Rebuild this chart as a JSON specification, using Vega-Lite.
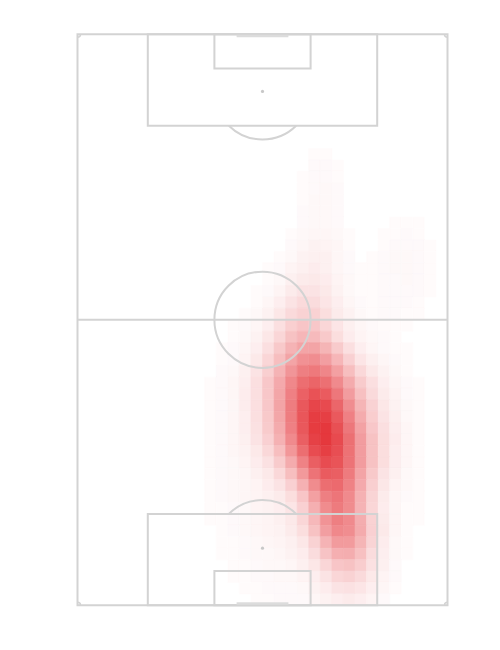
{
  "$schema": "https://vega.github.io/schema/vega-lite/v6.json",
  "width": 370,
  "height": 571,
  "autosize": "none",
  "padding": {"left": 77.5, "top": 34.3, "right": 52.5, "bottom": 44.7},
  "background": "white",
  "config": {"view": {"stroke": null}},
  "datasets": {
    "heat": [
      {"r":10,"c":20,"v":0.02},{"r":10,"c":21,"v":0.02},
      {"r":11,"c":20,"v":0.03},{"r":11,"c":21,"v":0.03},{"r":11,"c":22,"v":0.02},
      {"r":12,"c":19,"v":0.02},{"r":12,"c":20,"v":0.03},{"r":12,"c":21,"v":0.03},{"r":12,"c":22,"v":0.02},
      {"r":13,"c":19,"v":0.02},{"r":13,"c":20,"v":0.03},{"r":13,"c":21,"v":0.04},{"r":13,"c":22,"v":0.03},
      {"r":14,"c":19,"v":0.02},{"r":14,"c":20,"v":0.04},{"r":14,"c":21,"v":0.04},{"r":14,"c":22,"v":0.03},
      {"r":15,"c":19,"v":0.03},{"r":15,"c":20,"v":0.04},{"r":15,"c":21,"v":0.04},{"r":15,"c":22,"v":0.03},
      {"r":16,"c":19,"v":0.03},{"r":16,"c":20,"v":0.04},{"r":16,"c":21,"v":0.04},{"r":16,"c":22,"v":0.03},{"r":16,"c":27,"v":0.02},{"r":16,"c":28,"v":0.02},{"r":16,"c":29,"v":0.02},
      {"r":17,"c":18,"v":0.02},{"r":17,"c":19,"v":0.04},{"r":17,"c":20,"v":0.05},{"r":17,"c":21,"v":0.05},{"r":17,"c":22,"v":0.04},{"r":17,"c":23,"v":0.02},{"r":17,"c":26,"v":0.02},{"r":17,"c":27,"v":0.02},{"r":17,"c":28,"v":0.03},{"r":17,"c":29,"v":0.02},
      {"r":18,"c":18,"v":0.03},{"r":18,"c":19,"v":0.05},{"r":18,"c":20,"v":0.07},{"r":18,"c":21,"v":0.06},{"r":18,"c":22,"v":0.05},{"r":18,"c":23,"v":0.02},{"r":18,"c":26,"v":0.02},{"r":18,"c":27,"v":0.03},{"r":18,"c":28,"v":0.03},{"r":18,"c":29,"v":0.03},{"r":18,"c":30,"v":0.02},
      {"r":19,"c":17,"v":0.02},{"r":19,"c":18,"v":0.04},{"r":19,"c":19,"v":0.07},{"r":19,"c":20,"v":0.08},{"r":19,"c":21,"v":0.08},{"r":19,"c":22,"v":0.05},{"r":19,"c":23,"v":0.03},{"r":19,"c":25,"v":0.02},{"r":19,"c":26,"v":0.03},{"r":19,"c":27,"v":0.04},{"r":19,"c":28,"v":0.04},{"r":19,"c":29,"v":0.03},{"r":19,"c":30,"v":0.02},
      {"r":20,"c":16,"v":0.02},{"r":20,"c":17,"v":0.03},{"r":20,"c":18,"v":0.06},{"r":20,"c":19,"v":0.08},{"r":20,"c":20,"v":0.10},{"r":20,"c":21,"v":0.08},{"r":20,"c":22,"v":0.05},{"r":20,"c":23,"v":0.03},{"r":20,"c":24,"v":0.02},{"r":20,"c":25,"v":0.02},{"r":20,"c":26,"v":0.03},{"r":20,"c":27,"v":0.04},{"r":20,"c":28,"v":0.04},{"r":20,"c":29,"v":0.03},{"r":20,"c":30,"v":0.02},
      {"r":21,"c":16,"v":0.02},{"r":21,"c":17,"v":0.04},{"r":21,"c":18,"v":0.08},{"r":21,"c":19,"v":0.11},{"r":21,"c":20,"v":0.12},{"r":21,"c":21,"v":0.10},{"r":21,"c":22,"v":0.06},{"r":21,"c":23,"v":0.04},{"r":21,"c":24,"v":0.02},{"r":21,"c":25,"v":0.02},{"r":21,"c":26,"v":0.03},{"r":21,"c":27,"v":0.03},{"r":21,"c":28,"v":0.04},{"r":21,"c":29,"v":0.03},{"r":21,"c":30,"v":0.02},
      {"r":22,"c":15,"v":0.02},{"r":22,"c":16,"v":0.03},{"r":22,"c":17,"v":0.06},{"r":22,"c":18,"v":0.11},{"r":22,"c":19,"v":0.15},{"r":22,"c":20,"v":0.15},{"r":22,"c":21,"v":0.12},{"r":22,"c":22,"v":0.07},{"r":22,"c":23,"v":0.04},{"r":22,"c":24,"v":0.02},{"r":22,"c":25,"v":0.02},{"r":22,"c":26,"v":0.03},{"r":22,"c":27,"v":0.03},{"r":22,"c":28,"v":0.03},{"r":22,"c":29,"v":0.03},{"r":22,"c":30,"v":0.02},
      {"r":23,"c":15,"v":0.02},{"r":23,"c":16,"v":0.05},{"r":23,"c":17,"v":0.09},{"r":23,"c":18,"v":0.15},{"r":23,"c":19,"v":0.20},{"r":23,"c":20,"v":0.19},{"r":23,"c":21,"v":0.14},{"r":23,"c":22,"v":0.09},{"r":23,"c":23,"v":0.05},{"r":23,"c":24,"v":0.03},{"r":23,"c":25,"v":0.02},{"r":23,"c":26,"v":0.03},{"r":23,"c":27,"v":0.03},{"r":23,"c":28,"v":0.03},{"r":23,"c":29,"v":0.02},
      {"r":24,"c":14,"v":0.02},{"r":24,"c":15,"v":0.04},{"r":24,"c":16,"v":0.07},{"r":24,"c":17,"v":0.13},{"r":24,"c":18,"v":0.20},{"r":24,"c":19,"v":0.24},{"r":24,"c":20,"v":0.24},{"r":24,"c":21,"v":0.18},{"r":24,"c":22,"v":0.11},{"r":24,"c":23,"v":0.07},{"r":24,"c":24,"v":0.04},{"r":24,"c":25,"v":0.02},{"r":24,"c":26,"v":0.03},{"r":24,"c":27,"v":0.03},{"r":24,"c":28,"v":0.02},{"r":24,"c":29,"v":0.02},
      {"r":25,"c":13,"v":0.02},{"r":25,"c":14,"v":0.03},{"r":25,"c":15,"v":0.05},{"r":25,"c":16,"v":0.09},{"r":25,"c":17,"v":0.17},{"r":25,"c":18,"v":0.26},{"r":25,"c":19,"v":0.31},{"r":25,"c":20,"v":0.30},{"r":25,"c":21,"v":0.22},{"r":25,"c":22,"v":0.14},{"r":25,"c":23,"v":0.08},{"r":25,"c":24,"v":0.05},{"r":25,"c":25,"v":0.03},{"r":25,"c":26,"v":0.02},{"r":25,"c":27,"v":0.02},{"r":25,"c":28,"v":0.02},
      {"r":26,"c":13,"v":0.02},{"r":26,"c":14,"v":0.04},{"r":26,"c":15,"v":0.07},{"r":26,"c":16,"v":0.13},{"r":26,"c":17,"v":0.22},{"r":26,"c":18,"v":0.33},{"r":26,"c":19,"v":0.39},{"r":26,"c":20,"v":0.37},{"r":26,"c":21,"v":0.29},{"r":26,"c":22,"v":0.18},{"r":26,"c":23,"v":0.10},{"r":26,"c":24,"v":0.06},{"r":26,"c":25,"v":0.04},{"r":26,"c":26,"v":0.03},{"r":26,"c":27,"v":0.02},
      {"r":27,"c":12,"v":0.02},{"r":27,"c":13,"v":0.03},{"r":27,"c":14,"v":0.05},{"r":27,"c":15,"v":0.09},{"r":27,"c":16,"v":0.17},{"r":27,"c":17,"v":0.29},{"r":27,"c":18,"v":0.41},{"r":27,"c":19,"v":0.49},{"r":27,"c":20,"v":0.49},{"r":27,"c":21,"v":0.40},{"r":27,"c":22,"v":0.28},{"r":27,"c":23,"v":0.17},{"r":27,"c":24,"v":0.09},{"r":27,"c":25,"v":0.05},{"r":27,"c":26,"v":0.03},{"r":27,"c":27,"v":0.02},{"r":27,"c":28,"v":0.02},
      {"r":28,"c":12,"v":0.02},{"r":28,"c":13,"v":0.03},{"r":28,"c":14,"v":0.06},{"r":28,"c":15,"v":0.12},{"r":28,"c":16,"v":0.22},{"r":28,"c":17,"v":0.35},{"r":28,"c":18,"v":0.49},{"r":28,"c":19,"v":0.59},{"r":28,"c":20,"v":0.61},{"r":28,"c":21,"v":0.52},{"r":28,"c":22,"v":0.39},{"r":28,"c":23,"v":0.25},{"r":28,"c":24,"v":0.14},{"r":28,"c":25,"v":0.08},{"r":28,"c":26,"v":0.05},{"r":28,"c":27,"v":0.03},{"r":28,"c":28,"v":0.02},
      {"r":29,"c":12,"v":0.03},{"r":29,"c":13,"v":0.04},{"r":29,"c":14,"v":0.08},{"r":29,"c":15,"v":0.15},{"r":29,"c":16,"v":0.26},{"r":29,"c":17,"v":0.41},{"r":29,"c":18,"v":0.57},{"r":29,"c":19,"v":0.69},{"r":29,"c":20,"v":0.72},{"r":29,"c":21,"v":0.65},{"r":29,"c":22,"v":0.51},{"r":29,"c":23,"v":0.35},{"r":29,"c":24,"v":0.21},{"r":29,"c":25,"v":0.12},{"r":29,"c":26,"v":0.07},{"r":29,"c":27,"v":0.04},{"r":29,"c":28,"v":0.02},
      {"r":30,"c":11,"v":0.02},{"r":30,"c":12,"v":0.03},{"r":30,"c":13,"v":0.05},{"r":30,"c":14,"v":0.09},{"r":30,"c":15,"v":0.17},{"r":30,"c":16,"v":0.30},{"r":30,"c":17,"v":0.46},{"r":30,"c":18,"v":0.64},{"r":30,"c":19,"v":0.78},{"r":30,"c":20,"v":0.83},{"r":30,"c":21,"v":0.77},{"r":30,"c":22,"v":0.63},{"r":30,"c":23,"v":0.45},{"r":30,"c":24,"v":0.28},{"r":30,"c":25,"v":0.17},{"r":30,"c":26,"v":0.09},{"r":30,"c":27,"v":0.05},{"r":30,"c":28,"v":0.03},{"r":30,"c":29,"v":0.02},
      {"r":31,"c":11,"v":0.02},{"r":31,"c":12,"v":0.03},{"r":31,"c":13,"v":0.05},{"r":31,"c":14,"v":0.10},{"r":31,"c":15,"v":0.17},{"r":31,"c":16,"v":0.30},{"r":31,"c":17,"v":0.48},{"r":31,"c":18,"v":0.68},{"r":31,"c":19,"v":0.85},{"r":31,"c":20,"v":0.93},{"r":31,"c":21,"v":0.88},{"r":31,"c":22,"v":0.73},{"r":31,"c":23,"v":0.53},{"r":31,"c":24,"v":0.34},{"r":31,"c":25,"v":0.20},{"r":31,"c":26,"v":0.11},{"r":31,"c":27,"v":0.06},{"r":31,"c":28,"v":0.03},{"r":31,"c":29,"v":0.02},
      {"r":32,"c":11,"v":0.02},{"r":32,"c":12,"v":0.03},{"r":32,"c":13,"v":0.05},{"r":32,"c":14,"v":0.10},{"r":32,"c":15,"v":0.17},{"r":32,"c":16,"v":0.30},{"r":32,"c":17,"v":0.49},{"r":32,"c":18,"v":0.70},{"r":32,"c":19,"v":0.90},{"r":32,"c":20,"v":1.00},{"r":32,"c":21,"v":0.97},{"r":32,"c":22,"v":0.82},{"r":32,"c":23,"v":0.61},{"r":32,"c":24,"v":0.40},{"r":32,"c":25,"v":0.24},{"r":32,"c":26,"v":0.13},{"r":32,"c":27,"v":0.07},{"r":32,"c":28,"v":0.04},{"r":32,"c":29,"v":0.02},
      {"r":33,"c":11,"v":0.02},{"r":33,"c":12,"v":0.03},{"r":33,"c":13,"v":0.05},{"r":33,"c":14,"v":0.09},{"r":33,"c":15,"v":0.17},{"r":33,"c":16,"v":0.29},{"r":33,"c":17,"v":0.48},{"r":33,"c":18,"v":0.70},{"r":33,"c":19,"v":0.91},{"r":33,"c":20,"v":1.04},{"r":33,"c":21,"v":1.03},{"r":33,"c":22,"v":0.89},{"r":33,"c":23,"v":0.68},{"r":33,"c":24,"v":0.45},{"r":33,"c":25,"v":0.27},{"r":33,"c":26,"v":0.15},{"r":33,"c":27,"v":0.08},{"r":33,"c":28,"v":0.04},{"r":33,"c":29,"v":0.02},
      {"r":34,"c":11,"v":0.02},{"r":34,"c":12,"v":0.03},{"r":34,"c":13,"v":0.05},{"r":34,"c":14,"v":0.09},{"r":34,"c":15,"v":0.16},{"r":34,"c":16,"v":0.28},{"r":34,"c":17,"v":0.45},{"r":34,"c":18,"v":0.68},{"r":34,"c":19,"v":0.90},{"r":34,"c":20,"v":1.05},{"r":34,"c":21,"v":1.07},{"r":34,"c":22,"v":0.94},{"r":34,"c":23,"v":0.73},{"r":34,"c":24,"v":0.50},{"r":34,"c":25,"v":0.30},{"r":34,"c":26,"v":0.17},{"r":34,"c":27,"v":0.09},{"r":34,"c":28,"v":0.05},{"r":34,"c":29,"v":0.02},
      {"r":35,"c":11,"v":0.02},{"r":35,"c":12,"v":0.03},{"r":35,"c":13,"v":0.05},{"r":35,"c":14,"v":0.08},{"r":35,"c":15,"v":0.15},{"r":35,"c":16,"v":0.25},{"r":35,"c":17,"v":0.42},{"r":35,"c":18,"v":0.63},{"r":35,"c":19,"v":0.86},{"r":35,"c":20,"v":1.02},{"r":35,"c":21,"v":1.07},{"r":35,"c":22,"v":0.97},{"r":35,"c":23,"v":0.77},{"r":35,"c":24,"v":0.53},{"r":35,"c":25,"v":0.33},{"r":35,"c":26,"v":0.18},{"r":35,"c":27,"v":0.10},{"r":35,"c":28,"v":0.05},{"r":35,"c":29,"v":0.02},
      {"r":36,"c":11,"v":0.02},{"r":36,"c":12,"v":0.03},{"r":36,"c":13,"v":0.05},{"r":36,"c":14,"v":0.07},{"r":36,"c":15,"v":0.12},{"r":36,"c":16,"v":0.21},{"r":36,"c":17,"v":0.35},{"r":36,"c":18,"v":0.56},{"r":36,"c":19,"v":0.78},{"r":36,"c":20,"v":0.96},{"r":36,"c":21,"v":1.03},{"r":36,"c":22,"v":0.95},{"r":36,"c":23,"v":0.76},{"r":36,"c":24,"v":0.53},{"r":36,"c":25,"v":0.33},{"r":36,"c":26,"v":0.18},{"r":36,"c":27,"v":0.09},{"r":36,"c":28,"v":0.05},{"r":36,"c":29,"v":0.02},
      {"r":37,"c":11,"v":0.02},{"r":37,"c":12,"v":0.03},{"r":37,"c":13,"v":0.04},{"r":37,"c":14,"v":0.06},{"r":37,"c":15,"v":0.10},{"r":37,"c":16,"v":0.16},{"r":37,"c":17,"v":0.28},{"r":37,"c":18,"v":0.45},{"r":37,"c":19,"v":0.67},{"r":37,"c":20,"v":0.86},{"r":37,"c":21,"v":0.96},{"r":37,"c":22,"v":0.92},{"r":37,"c":23,"v":0.75},{"r":37,"c":24,"v":0.53},{"r":37,"c":25,"v":0.33},{"r":37,"c":26,"v":0.18},{"r":37,"c":27,"v":0.09},{"r":37,"c":28,"v":0.05},{"r":37,"c":29,"v":0.02},
      {"r":38,"c":11,"v":0.02},{"r":38,"c":12,"v":0.03},{"r":38,"c":13,"v":0.04},{"r":38,"c":14,"v":0.05},{"r":38,"c":15,"v":0.08},{"r":38,"c":16,"v":0.12},{"r":38,"c":17,"v":0.21},{"r":38,"c":18,"v":0.35},{"r":38,"c":19,"v":0.55},{"r":38,"c":20,"v":0.75},{"r":38,"c":21,"v":0.88},{"r":38,"c":22,"v":0.86},{"r":38,"c":23,"v":0.71},{"r":38,"c":24,"v":0.49},{"r":38,"c":25,"v":0.29},{"r":38,"c":26,"v":0.15},{"r":38,"c":27,"v":0.08},{"r":38,"c":28,"v":0.04},{"r":38,"c":29,"v":0.02},
      {"r":39,"c":11,"v":0.02},{"r":39,"c":12,"v":0.03},{"r":39,"c":13,"v":0.04},{"r":39,"c":14,"v":0.05},{"r":39,"c":15,"v":0.06},{"r":39,"c":16,"v":0.10},{"r":39,"c":17,"v":0.15},{"r":39,"c":18,"v":0.25},{"r":39,"c":19,"v":0.42},{"r":39,"c":20,"v":0.62},{"r":39,"c":21,"v":0.78},{"r":39,"c":22,"v":0.80},{"r":39,"c":23,"v":0.67},{"r":39,"c":24,"v":0.46},{"r":39,"c":25,"v":0.26},{"r":39,"c":26,"v":0.13},{"r":39,"c":27,"v":0.06},{"r":39,"c":28,"v":0.04},{"r":39,"c":29,"v":0.02},
      {"r":40,"c":11,"v":0.02},{"r":40,"c":12,"v":0.03},{"r":40,"c":13,"v":0.04},{"r":40,"c":14,"v":0.05},{"r":40,"c":15,"v":0.06},{"r":40,"c":16,"v":0.08},{"r":40,"c":17,"v":0.11},{"r":40,"c":18,"v":0.18},{"r":40,"c":19,"v":0.31},{"r":40,"c":20,"v":0.51},{"r":40,"c":21,"v":0.69},{"r":40,"c":22,"v":0.74},{"r":40,"c":23,"v":0.63},{"r":40,"c":24,"v":0.42},{"r":40,"c":25,"v":0.23},{"r":40,"c":26,"v":0.11},{"r":40,"c":27,"v":0.05},{"r":40,"c":28,"v":0.03},{"r":40,"c":29,"v":0.02},
      {"r":41,"c":11,"v":0.02},{"r":41,"c":12,"v":0.02},{"r":41,"c":13,"v":0.03},{"r":41,"c":14,"v":0.04},{"r":41,"c":15,"v":0.06},{"r":41,"c":16,"v":0.07},{"r":41,"c":17,"v":0.09},{"r":41,"c":18,"v":0.14},{"r":41,"c":19,"v":0.25},{"r":41,"c":20,"v":0.43},{"r":41,"c":21,"v":0.62},{"r":41,"c":22,"v":0.71},{"r":41,"c":23,"v":0.62},{"r":41,"c":24,"v":0.41},{"r":41,"c":25,"v":0.22},{"r":41,"c":26,"v":0.10},{"r":41,"c":27,"v":0.05},{"r":41,"c":28,"v":0.02},{"r":41,"c":29,"v":0.02},
      {"r":42,"c":11,"v":0.02},{"r":42,"c":12,"v":0.02},{"r":42,"c":13,"v":0.03},{"r":42,"c":14,"v":0.04},{"r":42,"c":15,"v":0.05},{"r":42,"c":16,"v":0.06},{"r":42,"c":17,"v":0.08},{"r":42,"c":18,"v":0.12},{"r":42,"c":19,"v":0.22},{"r":42,"c":20,"v":0.38},{"r":42,"c":21,"v":0.58},{"r":42,"c":22,"v":0.69},{"r":42,"c":23,"v":0.63},{"r":42,"c":24,"v":0.44},{"r":42,"c":25,"v":0.24},{"r":42,"c":26,"v":0.11},{"r":42,"c":27,"v":0.05},{"r":42,"c":28,"v":0.02},{"r":42,"c":29,"v":0.02},
      {"r":43,"c":12,"v":0.02},{"r":43,"c":13,"v":0.03},{"r":43,"c":14,"v":0.04},{"r":43,"c":15,"v":0.05},{"r":43,"c":16,"v":0.06},{"r":43,"c":17,"v":0.07},{"r":43,"c":18,"v":0.11},{"r":43,"c":19,"v":0.18},{"r":43,"c":20,"v":0.33},{"r":43,"c":21,"v":0.52},{"r":43,"c":22,"v":0.64},{"r":43,"c":23,"v":0.61},{"r":43,"c":24,"v":0.45},{"r":43,"c":25,"v":0.25},{"r":43,"c":26,"v":0.12},{"r":43,"c":27,"v":0.05},{"r":43,"c":28,"v":0.02},
      {"r":44,"c":12,"v":0.02},{"r":44,"c":13,"v":0.02},{"r":44,"c":14,"v":0.03},{"r":44,"c":15,"v":0.04},{"r":44,"c":16,"v":0.05},{"r":44,"c":17,"v":0.06},{"r":44,"c":18,"v":0.08},{"r":44,"c":19,"v":0.13},{"r":44,"c":20,"v":0.24},{"r":44,"c":21,"v":0.41},{"r":44,"c":22,"v":0.54},{"r":44,"c":23,"v":0.54},{"r":44,"c":24,"v":0.40},{"r":44,"c":25,"v":0.23},{"r":44,"c":26,"v":0.10},{"r":44,"c":27,"v":0.04},{"r":44,"c":28,"v":0.02},
      {"r":45,"c":12,"v":0.02},{"r":45,"c":13,"v":0.02},{"r":45,"c":14,"v":0.03},{"r":45,"c":15,"v":0.04},{"r":45,"c":16,"v":0.04},{"r":45,"c":17,"v":0.05},{"r":45,"c":18,"v":0.07},{"r":45,"c":19,"v":0.10},{"r":45,"c":20,"v":0.19},{"r":45,"c":21,"v":0.32},{"r":45,"c":22,"v":0.43},{"r":45,"c":23,"v":0.44},{"r":45,"c":24,"v":0.34},{"r":45,"c":25,"v":0.19},{"r":45,"c":26,"v":0.09},{"r":45,"c":27,"v":0.04},{"r":45,"c":28,"v":0.02},
      {"r":46,"c":13,"v":0.02},{"r":46,"c":14,"v":0.02},{"r":46,"c":15,"v":0.03},{"r":46,"c":16,"v":0.04},{"r":46,"c":17,"v":0.04},{"r":46,"c":18,"v":0.05},{"r":46,"c":19,"v":0.08},{"r":46,"c":20,"v":0.13},{"r":46,"c":21,"v":0.22},{"r":46,"c":22,"v":0.31},{"r":46,"c":23,"v":0.33},{"r":46,"c":24,"v":0.27},{"r":46,"c":25,"v":0.16},{"r":46,"c":26,"v":0.08},{"r":46,"c":27,"v":0.03},
      {"r":47,"c":13,"v":0.02},{"r":47,"c":14,"v":0.02},{"r":47,"c":15,"v":0.03},{"r":47,"c":16,"v":0.03},{"r":47,"c":17,"v":0.04},{"r":47,"c":18,"v":0.04},{"r":47,"c":19,"v":0.06},{"r":47,"c":20,"v":0.09},{"r":47,"c":21,"v":0.15},{"r":47,"c":22,"v":0.22},{"r":47,"c":23,"v":0.24},{"r":47,"c":24,"v":0.20},{"r":47,"c":25,"v":0.12},{"r":47,"c":26,"v":0.06},{"r":47,"c":27,"v":0.03},
      {"r":48,"c":14,"v":0.02},{"r":48,"c":15,"v":0.02},{"r":48,"c":16,"v":0.03},{"r":48,"c":17,"v":0.03},{"r":48,"c":18,"v":0.03},{"r":48,"c":19,"v":0.04},{"r":48,"c":20,"v":0.07},{"r":48,"c":21,"v":0.10},{"r":48,"c":22,"v":0.15},{"r":48,"c":23,"v":0.16},{"r":48,"c":24,"v":0.14},{"r":48,"c":25,"v":0.09},{"r":48,"c":26,"v":0.05},{"r":48,"c":27,"v":0.02},
      {"r":49,"c":15,"v":0.02},{"r":49,"c":16,"v":0.02},{"r":49,"c":17,"v":0.03},{"r":49,"c":18,"v":0.03},{"r":49,"c":19,"v":0.03},{"r":49,"c":20,"v":0.05},{"r":49,"c":21,"v":0.07},{"r":49,"c":22,"v":0.09},{"r":49,"c":23,"v":0.11},{"r":49,"c":24,"v":0.09},{"r":49,"c":25,"v":0.06},{"r":49,"c":26,"v":0.03}
    ],
    "boxes": [
      {"x": 0, "x2": 100, "y": 0, "y2": 100},
      {"x": 19, "x2": 81, "y": 0, "y2": 16},
      {"x": 37, "x2": 63, "y": 0, "y2": 6},
      {"x": 19, "x2": 81, "y": 84, "y2": 100},
      {"x": 37, "x2": 63, "y": 94, "y2": 100}
    ],
    "halfway": [{"x": 0, "x2": 100, "y": 50}],
    "goals": [{"x": 43, "x2": 57, "y": 0.3}, {"x": 43, "x2": 57, "y": 99.7}],
    "spots": [{"x": 50, "y": 10}, {"x": 50, "y": 90}],
    "centre": [{"x": 50, "y": 50}],
    "penarcs": [{"x": 50, "y": 10, "k": "top"}, {"x": 50, "y": 90, "k": "bottom"}],
    "corners": [
      {"x": 0, "y": 0, "k": "tl"},
      {"x": 100, "y": 0, "k": "tr"},
      {"x": 0, "y": 100, "k": "bl"},
      {"x": 100, "y": 100, "k": "br"}
    ]
  },
  "layer": [
    {
      "data": {"name": "heat"},
      "mark": {"type": "rect", "strokeWidth": 0.6},
      "encoding": {
        "x": {"field": "c", "type": "ordinal", "axis": null,
          "scale": {"domain": [0,1,2,3,4,5,6,7,8,9,10,11,12,13,14,15,16,17,18,19,20,21,22,23,24,25,26,27,28,29,30,31], "paddingInner": 0, "paddingOuter": 0}},
        "y": {"field": "r", "type": "ordinal", "axis": null,
          "scale": {"domain": [0,1,2,3,4,5,6,7,8,9,10,11,12,13,14,15,16,17,18,19,20,21,22,23,24,25,26,27,28,29,30,31,32,33,34,35,36,37,38,39,40,41,42,43,44,45,46,47,48,49], "paddingInner": 0, "paddingOuter": 0}},
        "color": {"field": "v", "type": "quantitative", "legend": null,
          "scale": {"domain": [0, 1.08], "range": ["#ffffff", "#e5363b"], "interpolate": "rgb"}},
        "stroke": {"field": "v", "type": "quantitative", "legend": null,
          "scale": {"domain": [0, 1.08], "range": ["#ffffff", "#e5363b"], "interpolate": "rgb"}}
      }
    },
    {
      "data": {"name": "boxes"},
      "mark": {"type": "rect", "filled": false, "stroke": "#d3d3d3", "strokeWidth": 2},
      "encoding": {
        "x": {"field": "x", "type": "quantitative", "axis": null, "scale": {"domain": [0, 100]}},
        "x2": {"field": "x2"},
        "y": {"field": "y", "type": "quantitative", "axis": null, "scale": {"domain": [0, 100], "reverse": true}},
        "y2": {"field": "y2"}
      }
    },
    {
      "data": {"name": "halfway"},
      "mark": {"type": "rule", "color": "#d3d3d3", "strokeWidth": 2},
      "encoding": {
        "x": {"field": "x", "type": "quantitative", "axis": null, "scale": {"domain": [0, 100]}},
        "x2": {"field": "x2"},
        "y": {"field": "y", "type": "quantitative", "axis": null, "scale": {"domain": [0, 100], "reverse": true}}
      }
    },
    {
      "data": {"name": "goals"},
      "mark": {"type": "rule", "color": "#dcdcdc", "strokeWidth": 2.5},
      "encoding": {
        "x": {"field": "x", "type": "quantitative", "axis": null, "scale": {"domain": [0, 100]}},
        "x2": {"field": "x2"},
        "y": {"field": "y", "type": "quantitative", "axis": null, "scale": {"domain": [0, 100], "reverse": true}}
      }
    },
    {
      "data": {"name": "spots"},
      "mark": {"type": "point", "filled": true, "color": "#c8c8c8", "size": 10, "opacity": 1},
      "encoding": {
        "x": {"field": "x", "type": "quantitative", "axis": null, "scale": {"domain": [0, 100]}},
        "y": {"field": "y", "type": "quantitative", "axis": null, "scale": {"domain": [0, 100], "reverse": true}}
      }
    },
    {
      "data": {"name": "centre"},
      "mark": {"type": "point", "shape": "circle", "filled": false, "color": "#d3d3d3", "strokeWidth": 2, "size": 9250, "opacity": 1},
      "encoding": {
        "x": {"field": "x", "type": "quantitative", "axis": null, "scale": {"domain": [0, 100]}},
        "y": {"field": "y", "type": "quantitative", "axis": null, "scale": {"domain": [0, 100], "reverse": true}}
      }
    },
    {
      "data": {"name": "penarcs"},
      "mark": {"type": "point", "filled": false, "color": "#d3d3d3", "strokeWidth": 2, "size": 9250, "opacity": 1},
      "encoding": {
        "x": {"field": "x", "type": "quantitative", "axis": null, "scale": {"domain": [0, 100]}},
        "y": {"field": "y", "type": "quantitative", "axis": null, "scale": {"domain": [0, 100], "reverse": true}},
        "shape": {"field": "k", "type": "nominal", "legend": null,
          "scale": {"domain": ["top", "bottom"], "range": ["M -0.7 0.714 A 1 1 0 0 0 0.7 0.714", "M -0.7 -0.714 A 1 1 0 0 1 0.7 -0.714"]}}
      }
    },
    {
      "data": {"name": "corners"},
      "mark": {"type": "point", "filled": false, "color": "#d3d3d3", "strokeWidth": 1.5, "size": 36, "opacity": 1},
      "encoding": {
        "x": {"field": "x", "type": "quantitative", "axis": null, "scale": {"domain": [0, 100]}},
        "y": {"field": "y", "type": "quantitative", "axis": null, "scale": {"domain": [0, 100], "reverse": true}},
        "shape": {"field": "k", "type": "nominal", "legend": null,
          "scale": {"domain": ["tl", "tr", "bl", "br"], "range": ["M 1 0 A 1 1 0 0 1 0 1", "M -1 0 A 1 1 0 0 0 0 1", "M 1 0 A 1 1 0 0 0 0 -1", "M -1 0 A 1 1 0 0 1 0 -1"]}}
      }
    }
  ],
  "resolve": {"scale": {"x": "independent", "y": "independent", "color": "independent", "stroke": "independent", "shape": "independent"}}
}
